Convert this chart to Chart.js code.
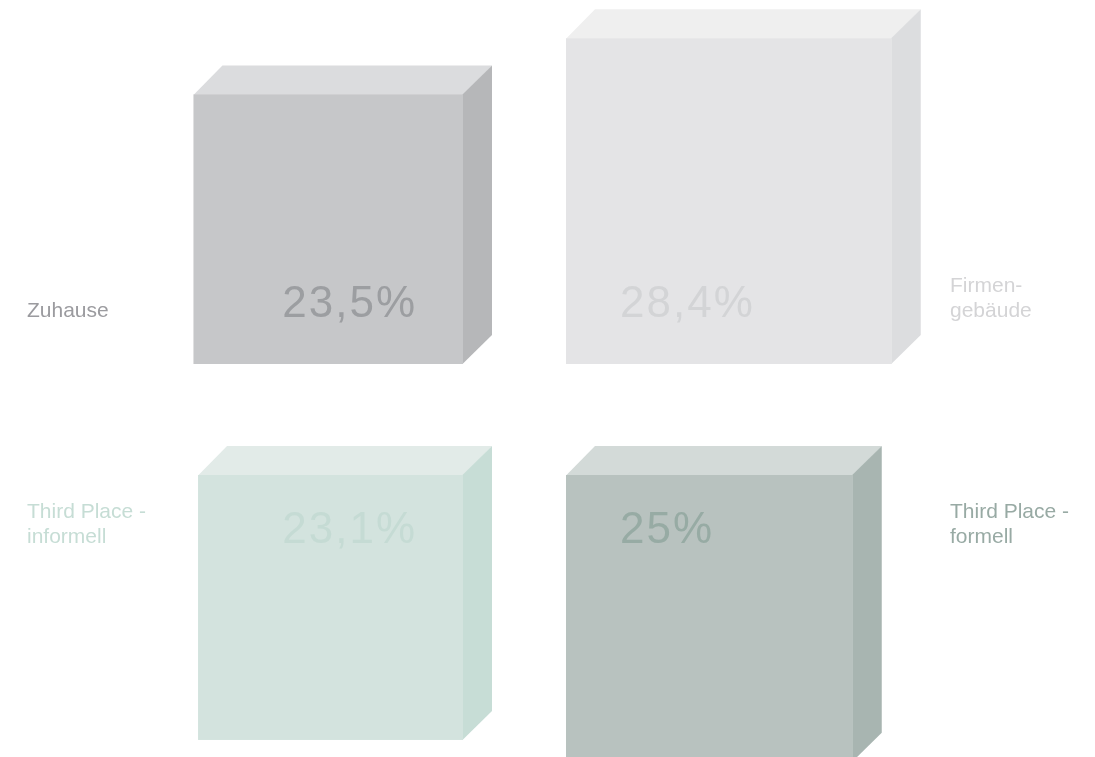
<!DOCTYPE html>
<html lang="de">
<head>
<meta charset="utf-8">
<title>Arbeitsorte</title>
<script src="https://cdn.jsdelivr.net/npm/chart.js@4"></script>
<style>
    html, body { margin: 0; padding: 0; background: #ffffff; }
    #wrap { width: 1095px; height: 757px; position: relative; }
</style>
</head>
<body>
<div id="wrap"><canvas id="cubeChart"></canvas></div>
<script>
// Work locations and their share in percent
const categories = ['Zuhause', 'Firmengebäude', 'Third Place - informell', 'Third Place - formell'];
const labelLines = [['Zuhause'], ['Firmen-', 'gebäude'], ['Third Place -', 'informell'], ['Third Place -', 'formell']];
const shares = [23.5, 28.4, 23.1, 25];

// Which quadrant each cube grows into: [x direction, y direction]
const quadrants = [[-1, 1], [1, 1], [-1, -1], [1, -1]];

// Face colours
const frontColors = ['#c6c7c9', '#e4e4e6', '#d3e3de', '#b8c2bf'];
const topColors   = ['#dbdcde', '#efefef', '#e2ebe8', '#d3dad8'];
const sideColors  = ['#b6b7b9', '#dcdddf', '#c7ddd6', '#a8b5b1'];
const valueColors = ['#9c9ea1', '#d3d4d6', '#c5dbd4', '#97aba4'];
const labelColors = ['#9b9b9f', '#d4d4d6', '#c6ddd5', '#98aaa4'];

// Layout
const W = 1095, H = 757;
const PX_PER_UNIT = 11.47;          // one percent point of cube edge
const ORIGIN = { x: 514.5, y: 419.5 };
const GAP = { x: 51.5 / PX_PER_UNIT, y: 55.5 / PX_PER_UNIT };
const DEPTH = 29;
const LABEL_X = [27, 950];

const formatShare = v => v.toString().replace('.', ',') + '%';

const cubePlugin = {
    id: 'cubes',
    afterDatasetsDraw(chart) {
        const { ctx, scales: { x, y } } = chart;
        const pts = chart.data.datasets[0].data;
        ctx.save();
        pts.forEach((p, i) => {
            const [sx, sy] = quadrants[i];
            const xa = x.getPixelForValue(sx * GAP.x), xb = x.getPixelForValue(p.x);
            const ya = y.getPixelForValue(sy * GAP.y), yb = y.getPixelForValue(p.y);
            const left = Math.min(xa, xb), right = Math.max(xa, xb);
            const top = Math.min(ya, yb), bottom = Math.max(ya, yb);

            // top face
            ctx.fillStyle = topColors[i];
            ctx.beginPath();
            ctx.moveTo(left, top + 0.5);
            ctx.lineTo(left + DEPTH, top - DEPTH);
            ctx.lineTo(right + DEPTH, top - DEPTH);
            ctx.lineTo(right + 0.5, top + 0.5);
            ctx.closePath();
            ctx.fill();

            // right face
            ctx.fillStyle = sideColors[i];
            ctx.beginPath();
            ctx.moveTo(right - 0.5, top);
            ctx.lineTo(right + DEPTH, top - DEPTH);
            ctx.lineTo(right + DEPTH, bottom - DEPTH);
            ctx.lineTo(right - 0.5, bottom);
            ctx.closePath();
            ctx.fill();

            // front face
            ctx.fillStyle = frontColors[i];
            ctx.fillRect(left, top, right - left, bottom - top);

            // value inside the front face, near the centre of the chart
            const baseline = sy > 0 ? bottom - 47 : top + 68;
            ctx.font = '44px "Liberation Sans", Arial, sans-serif';
            ctx.letterSpacing = '2px';
            ctx.fillStyle = valueColors[i];
            ctx.textBaseline = 'alphabetic';
            if (sx < 0) {
                ctx.textAlign = 'right';
                ctx.fillText(formatShare(shares[i]), right - 46, baseline);
            } else {
                ctx.textAlign = 'left';
                ctx.fillText(formatShare(shares[i]), left + 54, baseline);
            }

            // category label at the outer side
            const lines = labelLines[i];
            ctx.font = '21px "Liberation Sans", Arial, sans-serif';
            ctx.letterSpacing = '0px';
            ctx.fillStyle = labelColors[i];
            ctx.textAlign = 'left';
            const lx = LABEL_X[sx < 0 ? 0 : 1];
            lines.forEach((line, k) => {
                ctx.fillText(line, lx, baseline - (lines.length - 1 - k) * 25.5);
            });
        });
        ctx.restore();
    }
};

new Chart(document.getElementById('cubeChart'), {
    type: 'scatter',
    data: {
        labels: categories,
        datasets: [{
            label: 'Anteil',
            // outer corner of each front face
            data: shares.map((v, i) => ({
                x: quadrants[i][0] * (GAP.x + v),
                y: quadrants[i][1] * (GAP.y + v)
            })),
            pointRadius: 0
        }]
    },
    options: {
        responsive: true,
        maintainAspectRatio: false,
        animation: false,
        layout: { padding: 0 },
        plugins: { legend: { display: false }, tooltip: { enabled: false } },
        scales: {
            x: { type: 'linear', display: false, min: -ORIGIN.x / PX_PER_UNIT, max: (W - ORIGIN.x) / PX_PER_UNIT },
            y: { type: 'linear', display: false, min: -(H - ORIGIN.y) / PX_PER_UNIT, max: ORIGIN.y / PX_PER_UNIT }
        }
    },
    plugins: [cubePlugin]
});
</script>
</body>
</html>
